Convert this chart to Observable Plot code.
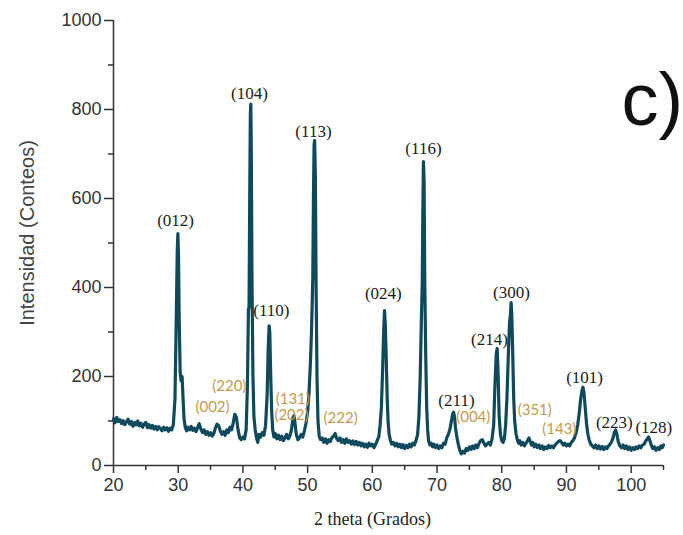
<!DOCTYPE html>
<html>
<head>
<meta charset="utf-8">
<script src="https://cdn.jsdelivr.net/npm/d3@7"></script>
<script src="https://cdn.jsdelivr.net/npm/@observablehq/plot@0.6"></script>
<style>
  html, body { margin: 0; padding: 0; background: #fff; }
  #chart svg { display: block; }
</style>
</head>
<body>
<div id="chart"></div>
<script>
// XRD pattern: [2θ (degrees), intensity (counts)]
const xrd = [
  [20.0,105],[20.25,96],[20.5,108],[20.75,99],[21.0,103],[21.25,94],[21.5,101],[21.75,92],[22.0,98],[22.25,104],
  [22.5,93],[22.75,99],[23.0,88],[23.25,97],[23.5,91],[23.75,100],[24.0,89],[24.25,95],[24.5,86],[24.75,93],
  [25.0,97],[25.25,85],[25.5,92],[25.75,84],[26.0,90],[26.25,82],[26.5,88],[26.75,80],[27.0,87],[27.25,83],
  [27.5,78],[27.75,86],[28.0,80],[28.25,85],[28.5,77],[28.75,84],[29.0,80],[29.25,92],[29.5,150],[29.7,330],
  [29.85,480],[29.95,521],[30.05,470],[30.15,330],[30.3,210],[30.45,190],[30.6,200],[30.75,150],[30.9,105],[31.1,85],
  [31.3,78],[31.5,86],[31.75,80],[32.0,88],[32.25,79],[32.5,84],[32.75,76],[33.0,85],[33.25,94],[33.5,82],
  [33.75,74],[34.0,80],[34.25,70],[34.5,76],[34.75,68],[35.0,74],[35.25,66],[35.5,72],[35.75,84],[36.0,93],
  [36.25,90],[36.5,78],[36.75,70],[37.0,76],[37.25,68],[37.5,80],[37.75,74],[38.0,86],[38.25,80],[38.5,96],
  [38.75,115],[39.0,108],[39.25,80],[39.5,62],[39.75,58],[40.0,64],[40.25,60],[40.5,80],[40.7,180],[40.85,350],
  [40.95,355],[41.05,600],[41.15,790],[41.22,812],[41.3,700],[41.4,420],[41.55,200],[41.7,110],[41.9,80],[42.1,62],
  [42.3,52],[42.5,70],[42.75,64],[43.0,74],[43.25,68],[43.5,90],[43.75,160],[43.9,260],[44.05,314],[44.15,300],
  [44.3,200],[44.45,120],[44.6,80],[44.8,64],[45.0,72],[45.25,60],[45.5,68],[45.75,58],[46.0,66],[46.25,56],
  [46.5,62],[46.75,70],[47.0,60],[47.25,66],[47.5,80],[47.75,108],[47.9,112],[48.05,95],[48.25,70],[48.5,58],
  [48.75,62],[49.0,70],[49.25,64],[49.5,78],[49.75,95],[50.0,120],[50.2,160],[50.4,220],[50.6,300],[50.8,420],
  [50.9,600],[51.0,720],[51.08,730],[51.2,650],[51.3,420],[51.45,200],[51.6,100],[51.8,65],[52.0,58],[52.25,62],
  [52.5,52],[52.75,60],[53.0,50],[53.25,58],[53.5,54],[53.75,62],[54.0,66],[54.25,72],[54.5,60],[54.75,56],
  [55.0,62],[55.25,52],[55.5,58],[55.75,50],[56.0,60],[56.25,52],[56.5,56],[56.75,48],[57.0,55],[57.25,47],
  [57.5,54],[57.75,46],[58.0,52],[58.25,44],[58.5,50],[58.75,42],[59.0,48],[59.25,41],[59.5,50],[59.75,44],
  [60.0,48],[60.25,40],[60.5,47],[60.75,56],[61.0,65],[61.2,90],[61.4,130],[61.6,220],[61.75,300],[61.88,348],
  [62.0,320],[62.15,240],[62.3,150],[62.45,95],[62.6,70],[62.8,56],[63.0,48],[63.25,52],[63.5,44],[63.75,50],
  [64.0,42],[64.25,48],[64.5,40],[64.75,47],[65.0,38],[65.25,45],[65.5,40],[65.75,48],[66.0,42],[66.25,50],
  [66.5,46],[66.75,56],[67.0,70],[67.2,110],[67.4,200],[67.6,340],[67.72,410],[67.8,560],[67.9,683],[68.0,640],
  [68.1,420],[68.25,250],[68.4,130],[68.55,80],[68.7,55],[68.9,46],[69.1,50],[69.3,42],[69.5,48],[69.75,40],
  [70.0,46],[70.25,38],[70.5,44],[70.75,40],[71.0,50],[71.25,48],[71.5,62],[71.75,70],[72.0,82],[72.2,98],
  [72.4,115],[72.55,120],[72.7,110],[72.85,85],[73.0,70],[73.25,50],[73.5,35],[73.75,26],[74.0,32],[74.25,28],
  [74.5,38],[74.75,34],[75.0,42],[75.25,36],[75.5,44],[75.75,38],[76.0,46],[76.25,40],[76.5,50],[76.75,56],
  [77.0,58],[77.25,50],[77.5,44],[77.75,48],[78.0,52],[78.25,46],[78.5,60],[78.75,90],[78.95,180],[79.15,250],
  [79.3,263],[79.45,200],[79.6,110],[79.8,70],[80.0,56],[80.2,52],[80.4,60],[80.6,90],[80.8,150],[81.0,240],
  [81.2,320],[81.35,340],[81.45,366],[81.55,340],[81.7,250],[81.85,150],[82.0,100],[82.2,72],[82.4,58],[82.6,50],
  [82.8,56],[83.0,46],[83.25,52],[83.5,44],[83.75,50],[84.0,56],[84.2,62],[84.4,54],[84.6,46],[84.8,52],
  [85.0,42],[85.25,48],[85.5,40],[85.75,46],[86.0,38],[86.25,44],[86.5,36],[86.75,42],[87.0,38],[87.25,45],
  [87.5,40],[87.75,44],[88.0,40],[88.25,46],[88.5,50],[88.75,54],[89.0,56],[89.25,52],[89.5,46],[89.75,50],
  [90.0,44],[90.25,48],[90.5,44],[90.75,52],[91.0,56],[91.25,62],[91.5,74],[91.75,92],[92.0,120],[92.2,150],
  [92.4,168],[92.55,176],[92.7,165],[92.9,130],[93.1,95],[93.3,72],[93.5,58],[93.75,48],[94.0,44],[94.25,40],
  [94.5,46],[94.75,38],[95.0,44],[95.25,37],[95.5,43],[95.75,36],[96.0,42],[96.25,38],[96.5,44],[96.75,48],
  [97.0,54],[97.2,62],[97.4,74],[97.6,80],[97.8,70],[98.0,54],[98.25,44],[98.5,40],[98.75,46],[99.0,38],
  [99.25,44],[99.5,36],[99.75,42],[100.0,34],[100.25,40],[100.5,36],[100.75,42],[101.0,38],[101.25,44],[101.5,40],
  [101.75,46],[102.0,48],[102.25,55],[102.5,60],[102.7,64],[102.9,56],[103.1,46],[103.35,38],[103.6,42],[103.85,34],
  [104.1,40],[104.35,36],[104.6,44],[104.8,40],[105.0,46]
];

// Miller index labels (main phase, black)
const mainLabels = ["(012)","(104)","(110)","(113)","(024)","(116)","(211)","(214)","(300)","(101)","(223)","(128)"];
const mainLabelX = [29.6, 41.0, 44.4, 50.9, 61.7, 67.9, 73.0, 78.1, 81.5, 92.8, 97.4, 103.5];
const mainLabelY = [551, 836, 348, 751, 387, 712, 146, 283, 389, 198, 97, 85];

// Secondary phase labels (gold)
const secLabels = ["(002)","(220)","(131)","(202)","(222)","(004)","(351)","(143)"];
const secLabelX = [35.3, 37.9, 47.7, 47.5, 55.1, 75.6, 85.1, 88.9];
const secLabelY = [130, 178, 150, 113, 106, 108, 124, 81];

const xMajor = [20, 30, 40, 50, 60, 70, 80, 90, 100];
const xMinor = [25, 35, 45, 55, 65, 75, 85, 95, 105];
const yMajor = [0, 200, 400, 600, 800, 1000];
const yMinor = [100, 300, 500, 700, 900];

const mainData = mainLabels.map((t, i) => ({t, x: mainLabelX[i], y: mainLabelY[i]}));
const secData = secLabels.map((t, i) => ({t, x: secLabelX[i], y: secLabelY[i]}));

const axisColor = "#333";

const chart = Plot.plot({
  width: 683,
  height: 535,
  marginLeft: 113,
  marginRight: 20,
  marginTop: 20,
  marginBottom: 70,
  style: {fontFamily: "Liberation Sans, Arial, sans-serif", background: "#fff", overflow: "visible"},
  x: {domain: [20, 105]},
  y: {domain: [0, 1000]},
  marks: [
    Plot.axisX({ticks: xMajor, tickSize: 8, tickPadding: 5, fontSize: 18, color: axisColor, label: null, stroke: axisColor, strokeWidth: 1.5}),
    Plot.axisX({ticks: xMinor, tickSize: 5, tickFormat: () => "", label: null, stroke: axisColor, strokeWidth: 1.5}),
    Plot.axisY({ticks: yMajor, tickSize: 9, tickPadding: 3, fontSize: 18, tickFormat: d => String(d), color: axisColor, label: null, stroke: axisColor, strokeWidth: 1.5}),
    Plot.axisY({ticks: yMinor, tickSize: 5, tickFormat: () => "", label: null, stroke: axisColor, strokeWidth: 1.5}),
    Plot.ruleY([0], {x1: 20, x2: 105, stroke: axisColor, strokeWidth: 1.5}),
    Plot.ruleX([20], {y1: 0, y2: 1000, stroke: axisColor, strokeWidth: 1.5}),
    Plot.line(xrd, {x: d => d[0], y: d => d[1], stroke: "#0e4a5c", strokeWidth: 3.2, strokeLinejoin: "round"}),
    Plot.text(mainData, {x: "x", y: "y", text: "t", fontFamily: "Liberation Serif, Times New Roman, serif", fontSize: 17, fill: "#1a1a1a"}),
    Plot.text(secData, {x: "x", y: "y", text: "t", fontFamily: "Lato, sans-serif", fontSize: 15, fill: "#c49a4e"}),
    Plot.text(["2 theta (Grados)"], {frameAnchor: "bottom", dx: -16, dy: 59, fontFamily: "Liberation Serif, Times New Roman, serif", fontSize: 18, fill: "#222"}),
    Plot.text(["Intensidad (Conteos)"], {frameAnchor: "left", textAnchor: "middle", dx: -86, dy: -10, rotate: -90, fontSize: 20, fill: "#444"}),
    Plot.text(["c)"], {frameAnchor: "top-right", dx: -42, dy: 52, textAnchor: "start", fontSize: 74, fill: "#111"})
  ]
});

document.getElementById("chart").appendChild(chart);
</script>
</body>
</html>
